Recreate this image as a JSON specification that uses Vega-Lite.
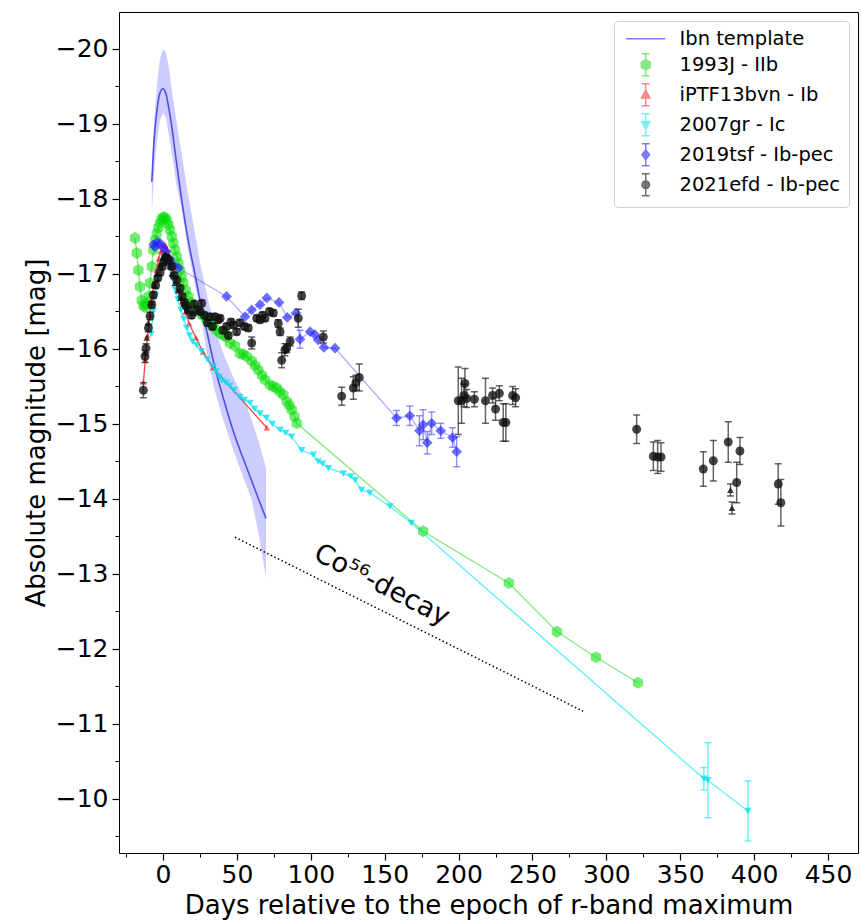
{
  "$schema": "https://vega.github.io/schema/vega-lite/v6.json",
  "width": 739,
  "height": 841,
  "autosize": {"type": "none"},
  "padding": {"left": 119, "top": 12, "right": 4, "bottom": 71},
  "background": "white",
  "config": {
    "font": "DejaVu Sans",
    "view": {"stroke": "black", "strokeWidth": 1},
    "axis": {"labelFont": "DejaVu Sans", "titleFont": "DejaVu Sans", "labelColor": "black", "titleColor": "black", "tickColor": "black", "grid": false, "domain": false, "titleFontWeight": "normal"}
  },
  "datasets": {
    "tmpl": [
      {"d": -7.6, "m": -18.23, "lo": -18.36, "hi": -17.8},
      {"d": -6, "m": -18.8, "lo": -19.05, "hi": -18.35},
      {"d": -4, "m": -19.2, "lo": -19.55, "hi": -18.8},
      {"d": -2, "m": -19.42, "lo": -19.88, "hi": -19.05},
      {"d": 0, "m": -19.47, "lo": -20.0, "hi": -19.15},
      {"d": 2, "m": -19.4, "lo": -19.95, "hi": -19.08},
      {"d": 4, "m": -19.2, "lo": -19.75, "hi": -18.85},
      {"d": 6, "m": -18.95, "lo": -19.45, "hi": -18.6},
      {"d": 9, "m": -18.5, "lo": -19.05, "hi": -18.2},
      {"d": 12.6, "m": -17.99, "lo": -18.6, "hi": -17.87},
      {"d": 17, "m": -17.45, "lo": -18.05, "hi": -17.3},
      {"d": 21.6, "m": -17.0, "lo": -17.55, "hi": -16.85},
      {"d": 25, "m": -16.65, "lo": -17.15, "hi": -16.55},
      {"d": 30, "m": -16.2, "lo": -16.7, "hi": -15.9},
      {"d": 35, "m": -15.76, "lo": -16.3, "hi": -15.45},
      {"d": 40, "m": -15.4, "lo": -15.98, "hi": -15.1},
      {"d": 47.6, "m": -14.9, "lo": -15.62, "hi": -14.65},
      {"d": 55, "m": -14.5, "lo": -15.33, "hi": -14.25},
      {"d": 60, "m": -14.24, "lo": -15.05, "hi": -13.99},
      {"d": 65, "m": -13.98, "lo": -14.75, "hi": -13.5},
      {"d": 69.7, "m": -13.74, "lo": -14.41, "hi": -12.95}
    ],
    "j93": [
      {"d": -19, "m": -17.48}, {"d": -17.8, "m": -17.28}, {"d": -16.7, "m": -17.05}, {"d": -15.6, "m": -16.83},
      {"d": -14.4, "m": -16.65}, {"d": -13.3, "m": -16.58}, {"d": -12.2, "m": -16.56}, {"d": -11, "m": -16.6},
      {"d": -9.9, "m": -16.7}, {"d": -8.8, "m": -16.88}, {"d": -7.6, "m": -17.1}, {"d": -6.5, "m": -17.32},
      {"d": -5.4, "m": -17.45}, {"d": -4.3, "m": -17.54}, {"d": -3.2, "m": -17.62}, {"d": -2, "m": -17.68},
      {"d": -1, "m": -17.73}, {"d": 0.2, "m": -17.76}, {"d": 1.3, "m": -17.75}, {"d": 2.5, "m": -17.72},
      {"d": 3.6, "m": -17.66}, {"d": 4.7, "m": -17.59}, {"d": 5.9, "m": -17.5}, {"d": 7, "m": -17.41},
      {"d": 8.1, "m": -17.32}, {"d": 9.3, "m": -17.23}, {"d": 10.4, "m": -17.14}, {"d": 11.5, "m": -17.05},
      {"d": 12.6, "m": -16.96}, {"d": 13.7, "m": -16.88}, {"d": 15.4, "m": -16.78}, {"d": 17.1, "m": -16.7},
      {"d": 18.8, "m": -16.62}, {"d": 20.5, "m": -16.56}, {"d": 22.7, "m": -16.52}, {"d": 25, "m": -16.48},
      {"d": 27.3, "m": -16.44}, {"d": 29.6, "m": -16.39}, {"d": 32, "m": -16.33}, {"d": 34, "m": -16.3},
      {"d": 36.3, "m": -16.25}, {"d": 38.6, "m": -16.21}, {"d": 41, "m": -16.18}, {"d": 43, "m": -16.16},
      {"d": 45.3, "m": -16.08}, {"d": 48.7, "m": -16.04}, {"d": 52, "m": -15.94}, {"d": 54.3, "m": -15.93},
      {"d": 56.6, "m": -15.9}, {"d": 60, "m": -15.84}, {"d": 62.3, "m": -15.78}, {"d": 64.5, "m": -15.72},
      {"d": 67, "m": -15.65}, {"d": 69, "m": -15.59}, {"d": 72.4, "m": -15.52}, {"d": 74.5, "m": -15.5},
      {"d": 76.9, "m": -15.48}, {"d": 79, "m": -15.43}, {"d": 81.4, "m": -15.39}, {"d": 83.7, "m": -15.3},
      {"d": 85.5, "m": -15.25}, {"d": 87.1, "m": -15.19}, {"d": 89, "m": -15.1}, {"d": 90.5, "m": -15.01},
      {"d": 176, "m": -13.57}, {"d": 234, "m": -12.88}, {"d": 266.6, "m": -12.23}, {"d": 293, "m": -11.89},
      {"d": 321.4, "m": -11.55}
    ],
    "bvn": [
      {"d": -13.3, "m": -15.56}, {"d": -12, "m": -15.85}, {"d": -10.5, "m": -16.18}, {"d": -9, "m": -16.45},
      {"d": -7.5, "m": -16.68}, {"d": -6, "m": -16.88}, {"d": -4.5, "m": -17.05}, {"d": -3, "m": -17.2},
      {"d": -1.5, "m": -17.3}, {"d": 0, "m": -17.37}, {"d": 1.5, "m": -17.39}, {"d": 3, "m": -17.32},
      {"d": 5, "m": -17.2}, {"d": 7, "m": -17.07}, {"d": 9, "m": -16.92}, {"d": 11, "m": -16.78},
      {"d": 13, "m": -16.63}, {"d": 15, "m": -16.49}, {"d": 17.6, "m": -16.34}, {"d": 22.3, "m": -16.15},
      {"d": 27, "m": -15.96}, {"d": 33.8, "m": -15.75}, {"d": 70.2, "m": -14.95}
    ],
    "gr": [
      {"d": -8, "m": -16.2, "e": 0}, {"d": -6.5, "m": -16.5, "e": 0}, {"d": -5, "m": -16.72, "e": 0},
      {"d": -3.5, "m": -16.9, "e": 0}, {"d": -2, "m": -17.05, "e": 0}, {"d": -0.5, "m": -17.15, "e": 0},
      {"d": 1, "m": -17.2, "e": 0}, {"d": 2.5, "m": -17.18, "e": 0}, {"d": 4, "m": -17.1, "e": 0},
      {"d": 6, "m": -16.95, "e": 0}, {"d": 8, "m": -16.8, "e": 0}, {"d": 10, "m": -16.66, "e": 0},
      {"d": 12, "m": -16.52, "e": 0}, {"d": 14, "m": -16.4, "e": 0}, {"d": 16, "m": -16.28, "e": 0},
      {"d": 18, "m": -16.18, "e": 0}, {"d": 20, "m": -16.1, "e": 0}, {"d": 22.8, "m": -16.05, "e": 0},
      {"d": 26, "m": -15.97, "e": 0}, {"d": 30, "m": -15.86, "e": 0}, {"d": 34, "m": -15.77, "e": 0},
      {"d": 36, "m": -15.7, "e": 0}, {"d": 38, "m": -15.63, "e": 0}, {"d": 40, "m": -15.58, "e": 0},
      {"d": 42.5, "m": -15.55, "e": 0}, {"d": 45.3, "m": -15.51, "e": 0}, {"d": 48, "m": -15.45, "e": 0},
      {"d": 52, "m": -15.36, "e": 0}, {"d": 55, "m": -15.32, "e": 0}, {"d": 58.9, "m": -15.28, "e": 0},
      {"d": 62, "m": -15.2, "e": 0}, {"d": 65.6, "m": -15.14, "e": 0}, {"d": 70, "m": -15.08, "e": 0},
      {"d": 74, "m": -15.0, "e": 0}, {"d": 79.2, "m": -14.92, "e": 0}, {"d": 83, "m": -14.88, "e": 0},
      {"d": 87, "m": -14.83, "e": 0}, {"d": 93.8, "m": -14.65, "e": 0}, {"d": 101.7, "m": -14.59, "e": 0},
      {"d": 105, "m": -14.5, "e": 0}, {"d": 108, "m": -14.47, "e": 0}, {"d": 112, "m": -14.41, "e": 0},
      {"d": 122, "m": -14.34, "e": 0}, {"d": 127, "m": -14.3, "e": 0}, {"d": 130, "m": -14.25, "e": 0},
      {"d": 134.4, "m": -14.12, "e": 0}, {"d": 140, "m": -14.08, "e": 0}, {"d": 153.6, "m": -13.9, "e": 0},
      {"d": 168, "m": -13.68, "e": 0}, {"d": 366, "m": -10.27, "e": 0.15}, {"d": 368.7, "m": -10.25, "e": 0.5},
      {"d": 395.8, "m": -9.84, "e": 0.4}
    ],
    "tsf": [
      {"d": -6.5, "m": -17.39, "e": 0}, {"d": -5.4, "m": -17.36, "e": 0}, {"d": -4, "m": -17.42, "e": 0},
      {"d": -2, "m": -17.41, "e": 0}, {"d": 0, "m": -17.35, "e": 0}, {"d": 2, "m": -17.3, "e": 0},
      {"d": 4.5, "m": -17.2, "e": 0}, {"d": 7, "m": -17.12, "e": 0}, {"d": 10.4, "m": -17.08, "e": 0},
      {"d": 43, "m": -16.7, "e": 0}, {"d": 55.5, "m": -16.43, "e": 0}, {"d": 60, "m": -16.52, "e": 0},
      {"d": 65.6, "m": -16.59, "e": 0}, {"d": 70.2, "m": -16.68, "e": 0}, {"d": 78.5, "m": -16.62, "e": 0},
      {"d": 84.1, "m": -16.42, "e": 0}, {"d": 90, "m": -16.48, "e": 0}, {"d": 92.7, "m": -16.13, "e": 0.12},
      {"d": 99.5, "m": -16.23, "e": 0}, {"d": 102.8, "m": -16.19, "e": 0}, {"d": 105, "m": -16.12, "e": 0},
      {"d": 108.9, "m": -16.02, "e": 0}, {"d": 116.4, "m": -16.01, "e": 0}, {"d": 158, "m": -15.08, "e": 0.1},
      {"d": 167, "m": -15.11, "e": 0.13}, {"d": 173.5, "m": -14.91, "e": 0.2}, {"d": 176, "m": -14.99, "e": 0.2},
      {"d": 178.8, "m": -14.75, "e": 0.15}, {"d": 181.8, "m": -15.01, "e": 0.15}, {"d": 187.9, "m": -14.91, "e": 0.1},
      {"d": 195.9, "m": -14.82, "e": 0.13}, {"d": 198.7, "m": -14.63, "e": 0.2}
    ],
    "efd": [
      {"d": -13.3, "m": -15.45, "e": 0.1}, {"d": -12.2, "m": -15.9, "e": 0.08}, {"d": -11.5, "m": -16.01, "e": 0.06},
      {"d": -9.9, "m": -16.28, "e": 0.05}, {"d": -8.8, "m": -16.44, "e": 0.05}, {"d": -7.6, "m": -16.59, "e": 0.04},
      {"d": -6.5, "m": -16.72, "e": 0.04}, {"d": -5, "m": -16.85, "e": 0.04}, {"d": -3.5, "m": -16.95, "e": 0.04},
      {"d": -2, "m": -17.02, "e": 0.04}, {"d": -0.5, "m": -17.1, "e": 0.04}, {"d": 0.5, "m": -17.16, "e": 0.04},
      {"d": 1.5, "m": -17.22, "e": 0.04}, {"d": 2.5, "m": -17.21, "e": 0.04}, {"d": 4, "m": -17.18, "e": 0.04},
      {"d": 5.9, "m": -17.1, "e": 0.04}, {"d": 7.5, "m": -16.98, "e": 0.04}, {"d": 9.3, "m": -16.92, "e": 0.04},
      {"d": 11.5, "m": -16.81, "e": 0.04}, {"d": 13, "m": -16.7, "e": 0.04}, {"d": 14.5, "m": -16.62, "e": 0.04},
      {"d": 15.5, "m": -16.58, "e": 0.04}, {"d": 17.1, "m": -16.52, "e": 0.04}, {"d": 19.3, "m": -16.45, "e": 0.04},
      {"d": 21, "m": -16.6, "e": 0.04}, {"d": 23, "m": -16.52, "e": 0.04}, {"d": 25, "m": -16.5, "e": 0.04},
      {"d": 26.2, "m": -16.61, "e": 0.04}, {"d": 28, "m": -16.45, "e": 0.04}, {"d": 30, "m": -16.35, "e": 0.04},
      {"d": 31.8, "m": -16.43, "e": 0.04}, {"d": 33.5, "m": -16.3, "e": 0.04}, {"d": 35.2, "m": -16.43, "e": 0.04},
      {"d": 37.4, "m": -16.39, "e": 0.04}, {"d": 38.6, "m": -16.41, "e": 0.04}, {"d": 40.5, "m": -16.25, "e": 0.04},
      {"d": 43, "m": -16.3, "e": 0.04}, {"d": 44.2, "m": -16.18, "e": 0.04}, {"d": 46, "m": -16.36, "e": 0.04},
      {"d": 47.6, "m": -16.32, "e": 0.04}, {"d": 49.8, "m": -16.23, "e": 0.04}, {"d": 52, "m": -16.35, "e": 0.04},
      {"d": 55, "m": -16.3, "e": 0.04}, {"d": 57.7, "m": -16.28, "e": 0.04}, {"d": 60, "m": -16.08, "e": 0.08},
      {"d": 63.4, "m": -16.41, "e": 0.04}, {"d": 65.6, "m": -16.39, "e": 0.04}, {"d": 67.3, "m": -16.45, "e": 0.04},
      {"d": 69, "m": -16.41, "e": 0.04}, {"d": 72, "m": -16.5, "e": 0.04}, {"d": 74.6, "m": -16.48, "e": 0.04},
      {"d": 78, "m": -16.34, "e": 0.05}, {"d": 79.2, "m": -16.23, "e": 0.05}, {"d": 80.3, "m": -15.85, "e": 0.1},
      {"d": 82.5, "m": -15.99, "e": 0.08}, {"d": 83.7, "m": -16.01, "e": 0.06}, {"d": 86, "m": -16.1, "e": 0.06},
      {"d": 91.5, "m": -16.41, "e": 0.12}, {"d": 93.8, "m": -16.71, "e": 0.05}, {"d": 108.5, "m": -16.16, "e": 0.08},
      {"d": 120.9, "m": -15.37, "e": 0.12}, {"d": 128.8, "m": -15.48, "e": 0.15}, {"d": 130.5, "m": -15.55, "e": 0.1},
      {"d": 132.8, "m": -15.62, "e": 0.18}, {"d": 199.8, "m": -15.31, "e": 0.45}, {"d": 202, "m": -15.31, "e": 0.3},
      {"d": 203.7, "m": -15.38, "e": 0.15}, {"d": 204.3, "m": -15.54, "e": 0.2}, {"d": 205.5, "m": -15.34, "e": 0.12},
      {"d": 210.7, "m": -15.33, "e": 0.1}, {"d": 218.2, "m": -15.31, "e": 0.3}, {"d": 223, "m": -15.38, "e": 0.1},
      {"d": 225, "m": -15.2, "e": 0.15}, {"d": 227.6, "m": -15.41, "e": 0.1}, {"d": 230.2, "m": -15.02, "e": 0.25},
      {"d": 232, "m": -15.02, "e": 0.25}, {"d": 236.6, "m": -15.38, "e": 0.12}, {"d": 238.6, "m": -15.35, "e": 0.12},
      {"d": 320.5, "m": -14.93, "e": 0.19}, {"d": 331.8, "m": -14.57, "e": 0.19}, {"d": 334.7, "m": -14.56, "e": 0.22},
      {"d": 337, "m": -14.56, "e": 0.19}, {"d": 365.6, "m": -14.4, "e": 0.23}, {"d": 372.4, "m": -14.51, "e": 0.27},
      {"d": 382.5, "m": -14.76, "e": 0.27}, {"d": 388.2, "m": -14.22, "e": 0.27}, {"d": 390.4, "m": -14.64, "e": 0.18},
      {"d": 416.3, "m": -14.2, "e": 0.27}, {"d": 418.1, "m": -13.95, "e": 0.31}
    ],
    "efdt": [
      {"d": -12.2, "m": -15.95, "e": 0}, {"d": -11, "m": -16.15, "e": 0}, {"d": -10, "m": -16.35, "e": 0},
      {"d": -8, "m": -16.62, "e": 0}, {"d": -6, "m": -16.85, "e": 0}, {"d": -4, "m": -17.0, "e": 0},
      {"d": -2, "m": -17.12, "e": 0}, {"d": 0, "m": -17.22, "e": 0}, {"d": 1.5, "m": -17.27, "e": 0},
      {"d": 3, "m": -17.2, "e": 0}, {"d": 4.5, "m": -17.1, "e": 0}, {"d": 6, "m": -17.0, "e": 0},
      {"d": 8, "m": -16.88, "e": 0}, {"d": 10, "m": -16.78, "e": 0}, {"d": 12, "m": -16.68, "e": 0},
      {"d": 14, "m": -16.6, "e": 0}, {"d": 16.5, "m": -16.52, "e": 0}, {"d": 20, "m": -16.48, "e": 0},
      {"d": 384, "m": -14.12, "e": 0.08}, {"d": 385, "m": -13.88, "e": 0.08}
    ],
    "co": [{"d": 48.7, "m": -13.49}, {"d": 284.2, "m": -11.17}],
    "lab": [{"d": 148, "m": -12.85, "t": "Co⁵⁶-decay"}],
    "leg": [{"sn": "Ibn template"}, {"sn": "1993J - IIb"}, {"sn": "iPTF13bvn - Ib"}, {"sn": "2007gr - Ic"}, {"sn": "2019tsf - Ib-pec"}, {"sn": "2021efd - Ib-pec"}]
  },
  "layer": [
    {
      "data": {"name": "tmpl"},
      "mark": {"type": "area", "color": "#0000ff", "opacity": 0.2},
      "encoding": {
        "x": {"field": "d", "type": "quantitative", "scale": {"domain": [-29.8, 470.3], "nice": false, "zero": false},
          "axis": {"values": [0, 50, 100, 150, 200, 250, 300, 350, 400, 450], "format": "d", "labelFontSize": 25, "tickSize": 7, "tickWidth": 1.2, "labelPadding": 2, "title": "Days relative to the epoch of r-band maximum", "titleFontSize": 26, "titlePadding": 5}},
        "y": {"field": "lo", "type": "quantitative", "scale": {"domain": [-20.493, -9.28], "reverse": true, "nice": false, "zero": false},
          "axis": {"values": [-20, -19, -18, -17, -16, -15, -14, -13, -12, -11, -10], "format": "d", "labelFontSize": 25, "tickSize": 7, "tickWidth": 1.2, "labelPadding": 4, "title": "Absolute magnitude [mag]", "titleFontSize": 26, "titlePadding": 6}},
        "y2": {"field": "hi"}
      }
    },
    {
      "data": {"name": "tmpl"},
      "mark": {"type": "line", "color": "#4f4fe8", "strokeWidth": 1.6, "interpolate": "monotone"},
      "encoding": {
        "x": {"field": "d", "type": "quantitative", "axis": {"orient": "bottom", "values": [-25, 25, 75, 125, 175, 225, 275, 325, 375, 425], "labels": false, "title": null, "tickSize": 4, "tickWidth": 1}},
        "y": {"field": "m", "type": "quantitative", "axis": {"orient": "left", "values": [-19.5, -18.5, -17.5, -16.5, -15.5, -14.5, -13.5, -12.5, -11.5, -10.5, -9.5], "labels": false, "title": null, "tickSize": 4, "tickWidth": 1}}
      }
    },
    {
      "data": {"name": "j93"},
      "mark": {"type": "line", "color": "#33dd33", "opacity": 0.6, "strokeWidth": 1.4},
      "encoding": {"x": {"field": "d", "type": "quantitative", "axis": null}, "y": {"field": "m", "type": "quantitative", "axis": null}}
    },
    {
      "data": {"name": "j93"},
      "mark": {"type": "point", "filled": true, "shape": "M0,-1L0.866,-0.5L0.866,0.5L0,1L-0.866,0.5L-0.866,-0.5Z", "size": 140, "color": "#00dd00", "opacity": 0.55},
      "encoding": {"x": {"field": "d", "type": "quantitative", "axis": null}, "y": {"field": "m", "type": "quantitative", "axis": null}}
    },
    {
      "data": {"name": "bvn"},
      "mark": {"type": "line", "color": "#ff2020", "opacity": 0.8, "strokeWidth": 1.4},
      "encoding": {"x": {"field": "d", "type": "quantitative", "axis": null}, "y": {"field": "m", "type": "quantitative", "axis": null}}
    },
    {
      "data": {"name": "bvn"},
      "mark": {"type": "point", "filled": true, "shape": "triangle-up", "size": 40, "color": "#ff2020", "opacity": 0.7},
      "encoding": {"x": {"field": "d", "type": "quantitative", "axis": null}, "y": {"field": "m", "type": "quantitative", "axis": null}}
    },
    {
      "data": {"name": "gr"},
      "mark": {"type": "line", "color": "#00e8f0", "opacity": 0.6, "strokeWidth": 1.4},
      "encoding": {"x": {"field": "d", "type": "quantitative", "axis": null}, "y": {"field": "m", "type": "quantitative", "axis": null}}
    },
    {
      "data": {"name": "gr"},
      "transform": [{"filter": "datum.e > 0"}],
      "mark": {"type": "errorbar", "ticks": {"size": 7}, "color": "#00e8f0", "opacity": 0.6, "thickness": 1.4},
      "encoding": {"x": {"field": "d", "type": "quantitative", "axis": null}, "y": {"field": "m", "type": "quantitative", "axis": null}, "yError": {"field": "e"}}
    },
    {
      "data": {"name": "gr"},
      "mark": {"type": "point", "filled": true, "shape": "triangle-down", "size": 55, "color": "#00e0f0", "opacity": 0.75},
      "encoding": {"x": {"field": "d", "type": "quantitative", "axis": null}, "y": {"field": "m", "type": "quantitative", "axis": null}}
    },
    {
      "data": {"name": "tsf"},
      "mark": {"type": "line", "color": "#2222ff", "opacity": 0.35, "strokeWidth": 1.4},
      "encoding": {"x": {"field": "d", "type": "quantitative", "axis": null}, "y": {"field": "m", "type": "quantitative", "axis": null}}
    },
    {
      "data": {"name": "tsf"},
      "transform": [{"filter": "datum.e > 0"}],
      "mark": {"type": "errorbar", "ticks": {"size": 7}, "color": "#3333ff", "opacity": 0.55, "thickness": 1.4},
      "encoding": {"x": {"field": "d", "type": "quantitative", "axis": null}, "y": {"field": "m", "type": "quantitative", "axis": null}, "yError": {"field": "e"}}
    },
    {
      "data": {"name": "tsf"},
      "mark": {"type": "point", "filled": true, "shape": "diamond", "size": 115, "color": "#2222ff", "opacity": 0.65},
      "encoding": {"x": {"field": "d", "type": "quantitative", "axis": null}, "y": {"field": "m", "type": "quantitative", "axis": null}}
    },
    {
      "data": {"name": "efd"},
      "mark": {"type": "errorbar", "ticks": {"size": 7}, "color": "#222222", "opacity": 0.7, "thickness": 1.5},
      "encoding": {"x": {"field": "d", "type": "quantitative", "axis": null}, "y": {"field": "m", "type": "quantitative", "axis": null}, "yError": {"field": "e"}}
    },
    {
      "data": {"name": "efdt"},
      "transform": [{"filter": "datum.e > 0"}],
      "mark": {"type": "errorbar", "ticks": {"size": 7}, "color": "#222222", "opacity": 0.7, "thickness": 1.5},
      "encoding": {"x": {"field": "d", "type": "quantitative", "axis": null}, "y": {"field": "m", "type": "quantitative", "axis": null}, "yError": {"field": "e"}}
    },
    {
      "data": {"name": "efdt"},
      "mark": {"type": "point", "filled": true, "shape": "triangle-up", "size": 45, "color": "#111111", "opacity": 0.8},
      "encoding": {"x": {"field": "d", "type": "quantitative", "axis": null}, "y": {"field": "m", "type": "quantitative", "axis": null}}
    },
    {
      "data": {"name": "efd"},
      "mark": {"type": "point", "filled": true, "shape": "circle", "size": 80, "color": "#111111", "opacity": 0.78},
      "encoding": {"x": {"field": "d", "type": "quantitative", "axis": null}, "y": {"field": "m", "type": "quantitative", "axis": null}}
    },
    {
      "data": {"name": "co"},
      "mark": {"type": "line", "color": "black", "strokeWidth": 1.5, "strokeDash": [1.5, 2.5]},
      "encoding": {"x": {"field": "d", "type": "quantitative", "axis": null}, "y": {"field": "m", "type": "quantitative", "axis": null}}
    },
    {
      "data": {"name": "lab"},
      "mark": {"type": "text", "angle": 27, "fontSize": 27, "font": "DejaVu Sans", "align": "center", "baseline": "middle", "color": "black"},
      "encoding": {"x": {"field": "d", "type": "quantitative", "axis": null}, "y": {"field": "m", "type": "quantitative", "axis": null}, "text": {"field": "t"}}
    },
    {
      "data": {"name": "leg"},
      "mark": {"type": "point", "filled": true, "opacity": 0.8, "strokeWidth": 1.4},
      "encoding": {
        "x": {"field": "d", "type": "quantitative", "axis": null},
        "y": {"field": "m", "type": "quantitative", "axis": null},
        "fill": {"field": "sn", "type": "nominal",
          "scale": {"domain": ["Ibn template", "1993J - IIb", "iPTF13bvn - Ib", "2007gr - Ic", "2019tsf - Ib-pec", "2021efd - Ib-pec"],
                    "range": ["#5a5aee", "#44dd44", "#ff5555", "#33e8ee", "#4444ff", "#333333"]},
          "legend": {"title": null, "orient": "top-right", "offset": 9, "labelFont": "DejaVu Sans", "labelFontSize": 19.5, "labelColor": "black", "symbolSize": 290, "symbolStrokeWidth": 1.4, "rowPadding": 1, "padding": 8, "symbolOffset": 14, "labelOffset": 24, "strokeColor": "#d0d0d0", "cornerRadius": 4, "fillColor": "white", "labelLimit": 300}},
        "stroke": {"field": "sn", "type": "nominal",
          "scale": {"domain": ["Ibn template", "1993J - IIb", "iPTF13bvn - Ib", "2007gr - Ic", "2019tsf - Ib-pec", "2021efd - Ib-pec"],
                    "range": ["#5a5aee", "#66e066", "#ff6666", "#55eeee", "#5555ff", "#444444"]}},
        "shape": {"field": "sn", "type": "nominal",
          "scale": {"domain": ["Ibn template", "1993J - IIb", "iPTF13bvn - Ib", "2007gr - Ic", "2019tsf - Ib-pec", "2021efd - Ib-pec"],
                    "range": [
                      "M-2.3,0L2.3,0",
                      "M0,-1.3L0,1.3M-0.45,-1.3L0.45,-1.3M-0.45,1.3L0.45,1.3M0,-0.6L0.52,-0.3L0.52,0.3L0,0.6L-0.52,0.3L-0.52,-0.3Z",
                      "M0,-1.3L0,1.3M-0.45,-1.3L0.45,-1.3M-0.45,1.3L0.45,1.3M0,-0.55L0.5,0.4L-0.5,0.4Z",
                      "M0,-1.3L0,1.3M-0.45,-1.3L0.45,-1.3M-0.45,1.3L0.45,1.3M0,0.55L0.5,-0.4L-0.5,-0.4Z",
                      "M0,-1.3L0,1.3M-0.45,-1.3L0.45,-1.3M-0.45,1.3L0.45,1.3M0,-0.6L0.45,0L0,0.6L-0.45,0Z",
                      "M0,-1.3L0,1.3M-0.45,-1.3L0.45,-1.3M-0.45,1.3L0.45,1.3M0.45,0A0.45,0.45 0 1,1 -0.45,0A0.45,0.45 0 1,1 0.45,0Z"
                    ]}}
      }
    }
  ],
  "resolve": {"axis": {"x": "independent", "y": "independent"}}
}
